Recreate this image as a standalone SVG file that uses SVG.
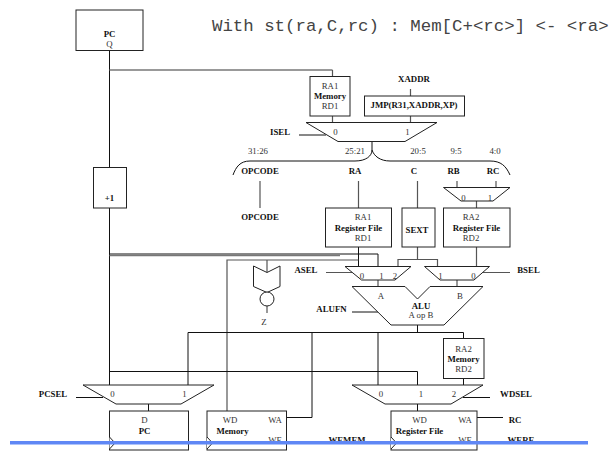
<svg xmlns="http://www.w3.org/2000/svg" width="614" height="451" viewBox="0 0 614 451">
<style>
text{font-family:"Liberation Serif","Times New Roman",serif;font-size:8.8px;fill:#333;text-anchor:middle}
.b{font-weight:bold;fill:#111}
.m{font-family:"Liberation Mono","Courier New",monospace;font-size:17.4px;text-anchor:start;fill:#444}
.s{fill:#fff;stroke:#222;stroke-width:1}
.c path{fill:none;stroke:#111;stroke-width:1}
.c .g{stroke:#555;stroke-width:1.2}
.c .t{stroke:#777;stroke-width:1.6}
</style>
<rect width="614" height="451" fill="#fff"/>
<text class="m" x="212" y="31">With st(ra,C,rc) : Mem[C+&lt;rc&gt;] &lt;- &lt;ra&gt;</text>
<g id="connectors" class="c">
<path d="M109.5 50V385"/>
<path class="t" d="M109.5 70H332.5"/>
<path class="g" d="M332.5 70V76M332.5 116V122M410.5 89V96M410.5 116V122"/>
<path d="M299 135H326"/>
<path d="M372 141.5V150C372 156 366 161 355 161H250C240 161 236 167 233 175"/>
<path d="M372 150C374 156 380 161 390 161H490C501 161 506 166 510 175"/>
<path class="g" d="M260 181V208M358.5 181V208M417.5 181V208M457 181V187.5M496 181V187.5M476.5 201V208"/>
<path d="M358.5 247V266.5M109.5 254H378V266.5"/>
<path class="t" d="M109.5 255.5H340"/>
<path class="g" d="M227 411V260H358.5M476.5 247V266.5M417.5 247V259.5M398 266.5V259.5H437.5V266.5M378 280V286.5M457 280V286.5M267 260V272.5M267 306V313"/>
<path class="g" d="M326 272.5H352M483 272.5H510"/>
<path d="M352 312H378M417.5 325V332.5M188 385V332.5H463.5V338.5M378 332.5V385M312 332.5V417.5H286.5M109.5 371.5H417.5V385M463.5 378.5V385"/>
<path d="M463 397.5H490M76 397.5H103M148.5 404V411M417.5 404V411M477 417.5H503"/>
</g>
<g id="pc-top"><rect class="s" x="76" y="10" width="67" height="40.500"/><text class="b" x="109.500" y="37">PC</text><text x="109.500" y="47">Q</text></g>
<g id="inc"><rect class="s" x="93.500" y="167.500" width="33" height="40.500"/><text class="b" x="109.500" y="201">+1</text></g>
<g id="imem"><rect class="s" x="310" y="76.500" width="40" height="39.500"/><text x="330" y="89">RA1</text><text class="b" x="330" y="99">Memory</text><text x="330" y="109">RD1</text></g>
<g id="xaddr"><text class="b" x="414" y="82">XADDR</text></g>
<g id="jmp"><rect class="s" x="364.500" y="96" width="100" height="20"/><text class="b" x="414" y="108">JMP(R31,XADDR,XP)</text></g>
<g id="isel"><path class="s" d="M306 122.500H437L405 141.500H338Z"/><text x="335.500" y="135">0</text><text x="407.500" y="135">1</text><text class="b" x="280" y="135">ISEL</text></g>
<g id="fields">
<text x="258" y="154">31:26</text><text x="355" y="154">25:21</text><text x="418" y="154">20:5</text><text x="456" y="154">9:5</text><text x="495" y="154">4:0</text>
<text class="b" x="260" y="174">OPCODE</text><text class="b" x="355" y="174">RA</text><text class="b" x="414" y="174">C</text><text class="b" x="453.500" y="174">RB</text><text class="b" x="493" y="174">RC</text>
<text class="b" x="260" y="220">OPCODE</text>
</g>
<g id="rbmux"><path class="s" d="M443.500 187.500H510L493 201H461Z"/><text x="463.500" y="201">0</text><text x="490" y="201">1</text></g>
<g id="rf1"><rect class="s" x="325.500" y="208" width="66" height="39"/><text x="363" y="220">RA1</text><text class="b" x="358.500" y="231">Register File</text><text x="363" y="241">RD1</text></g>
<g id="sext"><rect class="s" x="402" y="208" width="33" height="39"/><text class="b" x="417" y="233">SEXT</text></g>
<g id="rf2"><rect class="s" x="443.500" y="208" width="66.500" height="39"/><text x="471" y="220">RA2</text><text class="b" x="476.500" y="231">Register File</text><text x="471" y="241">RD2</text></g>
<g id="z"><path class="s" d="M253.500 266L267 272.500L280 266V286.500L267 292.500L253.500 286.500Z"/><circle class="s" cx="267" cy="299" r="7"/><text x="264" y="325">Z</text></g>
<g id="asel"><path class="s" d="M345 266.500H411L395 280H361.500Z"/><text x="362" y="279">0</text><text x="381.500" y="279">1</text><text x="395" y="279">2</text><text class="b" x="306" y="273">ASEL</text></g>
<g id="bsel"><path class="s" d="M424.500 266.500H489.500L474 280H440Z"/><text x="440.500" y="279">1</text><text x="473.500" y="279">0</text><text class="b" x="528.500" y="273">BSEL</text></g>
<g id="alu"><path class="s" d="M352 286.500H405L417.500 299L430 286.500H483L444 325H391Z"/><text x="381" y="299">A</text><text x="460" y="299">B</text><text class="b" x="421" y="309">ALU</text><text x="421" y="318">A op B</text><text class="b" x="331.500" y="312">ALUFN</text></g>
<g id="dmem"><rect class="s" x="443.500" y="338.500" width="40.500" height="40"/><text x="463.500" y="352">RA2</text><text class="b" x="463.500" y="362">Memory</text><text x="463.500" y="372">RD2</text></g>
<g id="pcsel"><path class="s" d="M83 385H214L181 404H116Z"/><text x="112.500" y="397">0</text><text x="184.500" y="397">1</text><text class="b" x="53" y="397">PCSEL</text></g>
<g id="wdsel"><path class="s" d="M352 385H483L451 404H385Z"/><text x="381" y="397">0</text><text x="421" y="397">1</text><text x="454" y="397">2</text><text class="b" x="516" y="397">WDSEL</text></g>
<g id="pc"><rect class="s" x="109.500" y="411" width="79" height="39"/><path class="s" d="M109.500 437L115 443L109.500 449"/><text x="144.500" y="423">D</text><text class="b" x="144.500" y="434">PC</text></g>
<g id="mem"><rect class="s" x="207" y="411" width="79.500" height="39"/><path class="s" d="M207 437L212.500 443L207 449"/><text x="230" y="423">WD</text><text x="275" y="423">WA</text><text class="b" x="232.500" y="434">Memory</text><text x="275" y="443">WE</text><text class="b" x="347" y="443">WEMEM</text></g>
<g id="rf"><rect class="s" x="391" y="411" width="86" height="39"/><path class="s" d="M391 437L396.500 443L391 449"/><text x="419.500" y="423">WD</text><text x="465" y="423">WA</text><text class="b" x="419.500" y="434">Register File</text><text x="465" y="443">WE</text><text class="b" x="515" y="423">RC</text><text class="b" x="521" y="443">WERE</text></g>
<rect id="bar" x="10" y="441" width="578" height="3.500" fill="#5f87f5"/>
</svg>
